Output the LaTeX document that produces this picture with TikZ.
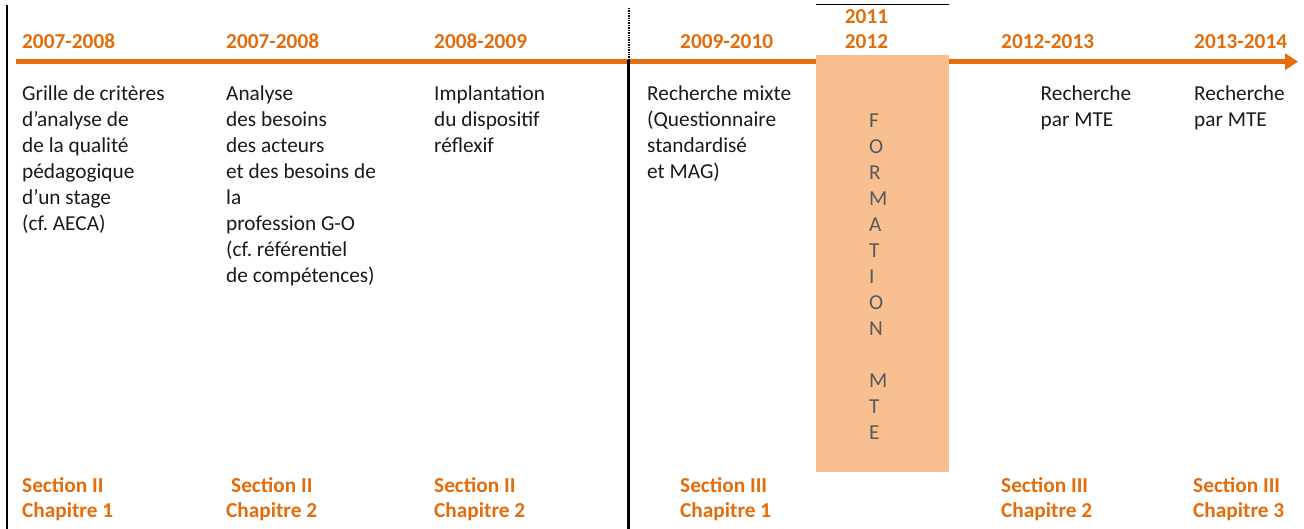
\documentclass[tikz,border=0pt]{standalone}
\usepackage{fontspec}
\setmainfont{Carlito}
\usetikzlibrary{arrows.meta}
\definecolor{tlorange}{HTML}{E46C0A}
\definecolor{tlfill}{HTML}{F8BF91}
\definecolor{tlgray}{HTML}{595959}
\definecolor{tltext}{HTML}{1A1A1A}
\frenchspacing
\begin{document}
% Multi-line nodes are placed by the baseline of their last line.
\begin{tikzpicture}[x=1pt,y=-1pt,
  year/.style={anchor=base west, inner sep=0pt, text=tlorange, align=left,
    font=\fontsize{21.3}{25.5}\selectfont\bfseries},
  yearc/.style={year, anchor=base, align=center},
  body/.style={anchor=base west, inner sep=0pt, text=tltext, align=left,
    font=\fontsize{21.3}{26}\selectfont},
  vert/.style={anchor=base west, inner sep=0pt, text=tlgray, align=left,
    font=\fontsize{21.3}{26}\selectfont},
  sect/.style={anchor=base west, inner sep=0pt, text=tlorange, align=left,
    font=\fontsize{21.3}{25}\selectfont\bfseries},
  axis/.style={draw=tlorange, line width=4.5pt,
    -{Triangle[length=13pt,width=16pt]}},
  sepline/.style={line width=2.2pt, black}]
\useasboundingbox (0,0) rectangle (1304,529);

% time axis
\coordinate (axstart) at (16,61.7);
\coordinate (axend) at (1298,61.7);
\draw[axis] (axstart) -- (axend);

% left border and separator
\coordinate (ltop) at (7,5);
\coordinate (lbot) at (7,529);
\draw[sepline, line width=2.6pt] (ltop) -- (lbot);
\coordinate (stop) at (628.5,8);
\coordinate (smid) at (628.5,60);
\coordinate (sbot) at (628.5,529);
\draw[sepline, line width=2pt, dash pattern=on 1pt off 0.7pt] (stop) -- (smid);
\draw[sepline, line width=2.4pt] (smid) -- (sbot);

% training block
\node[name=mte, fill=tlfill, minimum width=133pt, minimum height=417pt,
  anchor=north west, inner sep=0pt] at (816,55) {};
\draw[black, line width=1.4pt] (816,4.3) -- (949,4.3);

% years
\node[year] (y1) at (22,48.5) {2007-2008};
\node[year] (y2) at (226,48.5) {2007-2008};
\node[year] (y3) at (434,48.5) {2008-2009};
\node[year] (y4) at (680,48.5) {2009-2010};
\node[yearc] (y5) at (866.5,49) {2011\\2012};
\node[year] (y6) at (1001,48.5) {2012-2013};
\node[year] (y7) at (1194,48.5) {2013-2014};

% descriptions (first baseline at 101, 26 per line)
\node[body] (d1) at (22,231) {Grille de critères\\d’analyse de\\de la qualité\\pédagogique\\d’un stage\\(cf. AECA)};
\node[body] (d2) at (226,283) {Analyse\\des besoins\\des acteurs\\et des besoins de\\la\\profession G-O\\(cf. référentiel\\de compétences)};
\node[body] (d3) at (434,153) {Implantation\\du dispositif\\réflexif};
\node[body] (d4) at (647,179) {Recherche mixte\\(Questionnaire\\standardisé\\et MAG)};
\node[vert] (d5) at (869,439) {F\\O\\R\\M\\A\\T\\I\\O\\N\\\mbox{}\\M\\T\\E};
\node[body] (d6) at (1040.5,127) {Recherche\\par MTE};
\node[body] (d7) at (1194,127) {Recherche\\par MTE};

% sections
\node[sect] (s1) at (22,517) {Section II\\Chapitre 1};
\node[sect] (s2) at (226,517) {\hspace*{5pt}Section II\\Chapitre 2};
\node[sect] (s3) at (434,517) {Section II\\Chapitre 2};
\node[sect] (s4) at (680,517) {Section III\\Chapitre 1};
\node[sect] (s6) at (1001,517) {Section III\\Chapitre 2};
\node[sect] (s7) at (1193,517) {Section III\\Chapitre 3};
\end{tikzpicture}
\end{document}
